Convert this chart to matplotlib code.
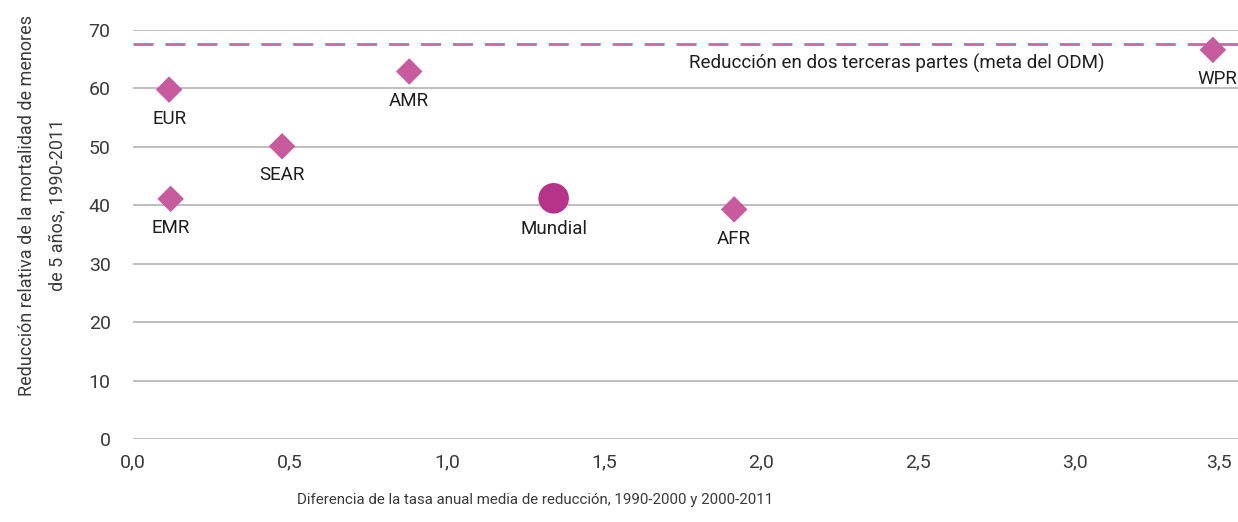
import matplotlib
matplotlib.use("Agg")
from matplotlib import pyplot as plt

# datos
regiones = ["EUR", "EMR", "SEAR", "AMR", "AFR", "WPR"]
dif_tasa = [0.115, 0.12, 0.475, 0.88, 1.915, 3.44]
reduccion = [59.8, 41.1, 50.1, 62.9, 39.3, 66.6]
mundial_x = [1.34]
mundial_y = [41.2]
meta = 67.6
x_ticks = [0, 0.5, 1.0, 1.5, 2.0, 2.5, 3.0, 3.5]
x_ticklabels = ["0,0", "0,5", "1,0", "1,5", "2,0", "2,5", "3,0", "3,5"]

plt.rcParams['font.family'] = ['Roboto', 'Liberation Sans', 'DejaVu Sans']
gris = '#3a3a3a'
negro = '#1e1e1e'

fig = plt.figure(figsize=(12.38, 5.22), dpi=100)
ax = fig.add_axes([0.1074, 0.159, 0.8926, 0.7835])

ax.set_xlim(0, 3.52)
ax.set_ylim(0, 70)
ax.set_yticks(range(0, 80, 10))
ax.set_xticks(x_ticks)
ax.set_xticklabels(x_ticklabels)
ax.grid(axis='y', color='#b3b3b3', linewidth=1.2)
ax.set_axisbelow(True)
for s in ax.spines.values():
    s.set_visible(False)
ax.tick_params(length=0, labelsize=14, colors=gris)
ax.tick_params(axis='x', pad=10)
ax.tick_params(axis='y', pad=16)
# el ultimo rotulo queda pegado al borde
ax.get_xticklabels()[-1].set_horizontalalignment('right')

ax.axhline(meta, color='#d063a8', linestyle=(0, (7.2, 4.3)), linewidth=2)
ax.text(1.77, 64.2, "Reducción en dos terceras partes (meta del ODM)",
        fontsize=13.5, color=negro, va='center', ha='left')

ax.scatter(dif_tasa, reduccion, marker='D', s=13.5 ** 2, color='#c75b9e',
           edgecolors='none', zorder=3, clip_on=False)
ax.scatter(mundial_x, mundial_y, marker='o', s=22 ** 2, color='#b7338a',
           edgecolors='none', zorder=3, clip_on=False)

for name, x, y in zip(regiones, dif_tasa, reduccion):
    dx = 3 if name == "WPR" else 0
    ax.annotate(name, (x, y), xytext=(dx, -21), textcoords='offset points',
                ha='center', va='center', fontsize=13.5, color=negro)
ax.annotate("Mundial", (mundial_x[0], mundial_y[0]), xytext=(0, -22),
            textcoords='offset points', ha='center', va='center',
            fontsize=13.5, color=negro)

fig.text(0.432, 0.042, "Diferencia de la tasa anual media de reducción, 1990-2000 y 2000-2011",
         ha='center', va='center', fontsize=10.8, color=gris)
fig.text(0.034, 0.607, "Reducción relativa de la mortalidad de menores\nde 5 años, 1990-2011",
         ha='center', va='center', rotation=90, fontsize=13, color=gris,
         linespacing=1.85)

fig.savefig("out.png", dpi=100)
